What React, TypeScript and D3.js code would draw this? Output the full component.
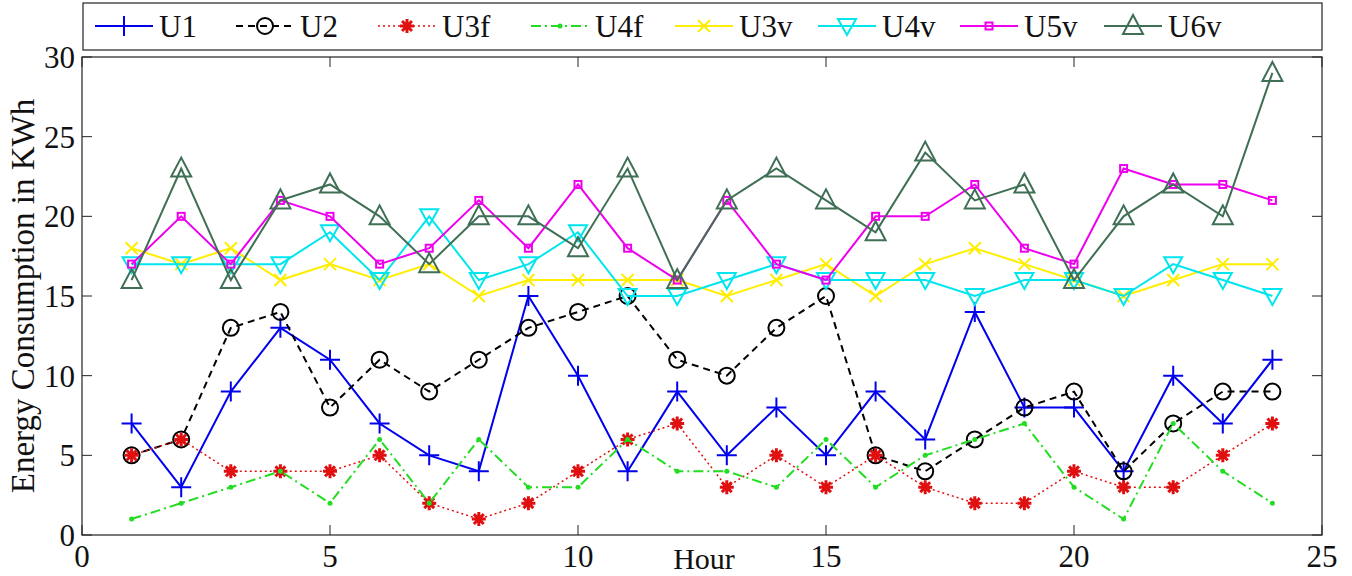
import { useEffect, useRef } from "react";
import * as d3 from "d3";

const hours = d3.range(1, 25);
const U1 = [7, 3, 9, 13, 11, 7, 5, 4, 15, 10, 4, 9, 5, 8, 5, 9, 6, 14, 8, 8, 4, 10, 7, 11];
const U2 = [5, 6, 13, 14, 8, 11, 9, 11, 13, 14, 15, 11, 10, 13, 15, 5, 4, 6, 8, 9, 4, 7, 9, 9];
const U3f = [5, 6, 4, 4, 4, 5, 2, 1, 2, 4, 6, 7, 3, 5, 3, 5, 3, 2, 2, 4, 3, 3, 5, 7];
const U4f = [1, 2, 3, 4, 2, 6, 2, 6, 3, 3, 6, 4, 4, 3, 6, 3, 5, 6, 7, 3, 1, 7, 4, 2];
const U3v = [18, 17, 18, 16, 17, 16, 17, 15, 16, 16, 16, 16, 15, 16, 17, 15, 17, 18, 17, 16, 15, 16, 17, 17];
const U4v = [17, 17, 17, 17, 19, 16, 20, 16, 17, 19, 15, 15, 16, 17, 16, 16, 16, 15, 16, 16, 15, 17, 16, 15];
const U5v = [17, 20, 17, 21, 20, 17, 18, 21, 18, 22, 18, 16, 21, 17, 16, 20, 20, 22, 18, 17, 23, 22, 22, 21];
const U6v = [16, 23, 16, 21, 22, 20, 17, 20, 20, 18, 23, 16, 21, 23, 21, 19, 24, 21, 22, 16, 20, 22, 20, 29];

const xTicks = [0, 5, 10, 15, 20, 25];
const yTicks = [0, 5, 10, 15, 20, 25, 30];

const series = [
  { name: "U1", values: U1, color: "#0000ee", dash: null, width: 2, marker: "plus" },
  { name: "U2", values: U2, color: "#000000", dash: "7,5", width: 2, marker: "circle" },
  { name: "U3f", values: U3f, color: "#e01010", dash: "2,3", width: 1.5, marker: "star" },
  { name: "U4f", values: U4f, color: "#22dd22", dash: "10,4,2,4", width: 2, marker: "dot" },
  { name: "U3v", values: U3v, color: "#ffee00", dash: null, width: 2, marker: "x" },
  { name: "U4v", values: U4v, color: "#00e5ee", dash: null, width: 2, marker: "tridown" },
  { name: "U5v", values: U5v, color: "#ee00ee", dash: null, width: 2, marker: "square" },
  { name: "U6v", values: U6v, color: "#3f6f55", dash: null, width: 2, marker: "triup" },
];

const FONT = "'Liberation Serif', 'DejaVu Serif', serif";

function drawMarker(g, type, x, y, color) {
  if (type === "plus") {
    g.append("path").attr("d", `M${x - 10},${y}H${x + 10}M${x},${y - 10}V${y + 10}`)
      .attr("stroke", color).attr("stroke-width", 2).attr("fill", "none");
  } else if (type === "circle") {
    g.append("circle").attr("cx", x).attr("cy", y).attr("r", 8)
      .attr("stroke", color).attr("stroke-width", 2).attr("fill", "none");
  } else if (type === "star") {
    const r = 7;
    let d = "";
    for (let k = 0; k < 4; k++) {
      const a = (k * Math.PI) / 4;
      d += `M${x - r * Math.cos(a)},${y - r * Math.sin(a)}L${x + r * Math.cos(a)},${y + r * Math.sin(a)}`;
    }
    g.append("path").attr("d", d).attr("stroke", color).attr("stroke-width", 3).attr("fill", "none");
  } else if (type === "dot") {
    g.append("circle").attr("cx", x).attr("cy", y).attr("r", 2.5).attr("fill", color);
  } else if (type === "x") {
    const r = 6;
    g.append("path").attr("d", `M${x - r},${y - r}L${x + r},${y + r}M${x - r},${y + r}L${x + r},${y - r}`)
      .attr("stroke", color).attr("stroke-width", 2).attr("fill", "none");
  } else if (type === "tridown") {
    g.append("path").attr("d", `M${x - 9},${y - 7}H${x + 9}L${x},${y + 9}Z`)
      .attr("stroke", color).attr("stroke-width", 2).attr("fill", "none");
  } else if (type === "square") {
    g.append("rect").attr("x", x - 3.5).attr("y", y - 3.5).attr("width", 7).attr("height", 7)
      .attr("stroke", color).attr("stroke-width", 2).attr("fill", "none");
  } else if (type === "triup") {
    g.append("path").attr("d", `M${x - 10},${y + 8}H${x + 10}L${x},${y - 11}Z`)
      .attr("stroke", color).attr("stroke-width", 2).attr("fill", "none");
  }
}

export default function App() {
  const ref = useRef(null);

  useEffect(() => {
    const width = 1352, height = 576;
    const margin = { top: 57, right: 30, bottom: 41, left: 82 };
    const svg = d3.select(ref.current);
    svg.selectAll("*").remove();

    const x = d3.scaleLinear().domain([0, 25]).range([margin.left, width - margin.right]);
    const y = d3.scaleLinear().domain([0, 30]).range([height - margin.bottom, margin.top]);

    const g = svg.append("g");

    // frame
    g.append("rect")
      .attr("x", margin.left).attr("y", margin.top)
      .attr("width", x(25) - x(0)).attr("height", y(0) - y(30))
      .attr("fill", "none").attr("stroke", "#222").attr("stroke-width", 1.2);

    // ticks (inward, both sides)
    const tickLen = 10;
    xTicks.forEach(t => {
      g.append("line").attr("x1", x(t)).attr("x2", x(t)).attr("y1", y(0)).attr("y2", y(0) - tickLen)
        .attr("stroke", "#222");
      g.append("line").attr("x1", x(t)).attr("x2", x(t)).attr("y1", y(30)).attr("y2", y(30) + tickLen)
        .attr("stroke", "#222");
      g.append("text").attr("x", x(t)).attr("y", y(0) + 32).attr("text-anchor", "middle")
        .attr("font-family", FONT).attr("font-size", 31).attr("fill", "#111").text(t);
    });
    yTicks.forEach(t => {
      g.append("line").attr("x1", x(0)).attr("x2", x(0) + tickLen).attr("y1", y(t)).attr("y2", y(t))
        .attr("stroke", "#222");
      g.append("line").attr("x1", x(25)).attr("x2", x(25) - tickLen).attr("y1", y(t)).attr("y2", y(t))
        .attr("stroke", "#222");
      g.append("text").attr("x", x(0) - 7).attr("y", y(t)).attr("dy", "0.35em").attr("text-anchor", "end")
        .attr("font-family", FONT).attr("font-size", 31).attr("fill", "#111").text(t);
    });

    // axis titles
    g.append("text").attr("x", 704).attr("y", 569).attr("text-anchor", "middle")
      .attr("font-family", FONT).attr("font-size", 30).attr("fill", "#111").text("Hour");
    g.append("text")
      .attr("transform", `translate(34,${(y(0) + y(30)) / 2}) rotate(-90)`)
      .attr("text-anchor", "middle")
      .attr("font-family", FONT).attr("font-size", 33).attr("fill", "#111")
      .text("Energy Consumption in KWh");

    // lines + markers
    series.forEach(s => {
      const line = d3.line().x((d, i) => x(hours[i])).y(d => y(d));
      g.append("path").datum(s.values)
        .attr("fill", "none").attr("stroke", s.color).attr("stroke-width", s.width)
        .attr("stroke-dasharray", s.dash).attr("d", line);
      const mg = g.append("g");
      s.values.forEach((v, i) => drawMarker(mg, s.marker, x(hours[i]), y(v), s.color));
    });

    // legend
    const lg = svg.append("g");
    lg.append("rect").attr("x", 83).attr("y", 3).attr("width", x(25) - 83).attr("height", 47)
      .attr("fill", "#fff").attr("stroke", "#222").attr("stroke-width", 1.2);
    const legendX = [95, 236, 378, 531, 675, 818, 960, 1104];
    series.forEach((s, i) => {
      const lx = legendX[i], ly = 26;
      lg.append("line").attr("x1", lx).attr("x2", lx + 58).attr("y1", ly).attr("y2", ly)
        .attr("stroke", s.color).attr("stroke-width", s.width).attr("stroke-dasharray", s.dash);
      drawMarker(lg, s.marker, lx + 29, ly, s.color);
      lg.append("text").attr("x", lx + 64).attr("y", ly).attr("dy", "0.35em")
        .attr("font-family", FONT).attr("font-size", 31).attr("fill", "#111").text(s.name);
    });
  }, []);

  return (
    <svg ref={ref} width={1352} height={576}
      style={{ position: "absolute", left: 0, top: 0, background: "#fff" }} />
  );
}
